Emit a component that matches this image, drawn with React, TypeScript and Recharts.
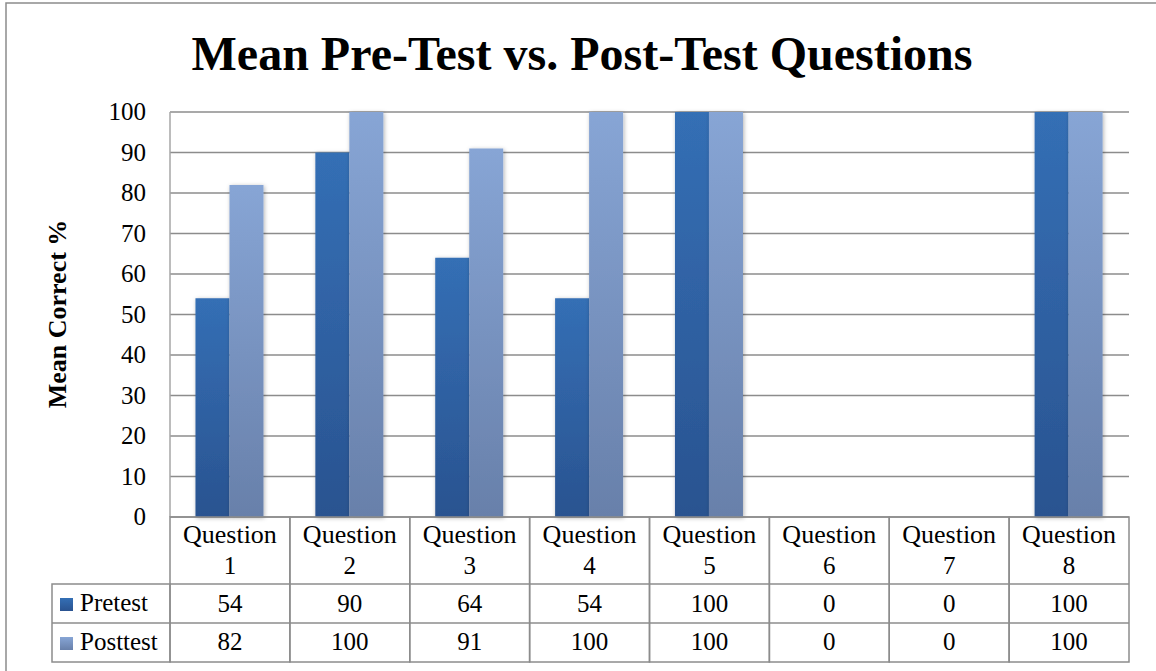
import { BarChart, Bar, XAxis, YAxis, CartesianGrid } from "recharts";

// Mean correct % per question
const questions = ["1", "2", "3", "4", "5", "6", "7", "8"];
const pretest = [54, 90, 64, 54, 100, 0, 0, 100];
const posttest = [82, 100, 91, 100, 100, 0, 0, 100];
const yTicks = [0, 10, 20, 30, 40, 50, 60, 70, 80, 90, 100];

const data = questions.map((q, i) => ({
  name: `Question ${q}`,
  num: q,
  pretest: pretest[i],
  posttest: posttest[i],
}));

const W = 1156;
const H = 671;
const PLOT_LEFT = 170;
const PLOT_RIGHT = 1129;
const PLOT_TOP = 112;
const PLOT_BOTTOM = 517;
const COL_W = (PLOT_RIGHT - PLOT_LEFT) / questions.length;
const ROW1 = 584;
const ROW2 = 623;
const ROW3 = 662;
const LINE = "#8c8c8c";
const FONT = "'Liberation Serif', 'Times New Roman', serif";
const txt = { fontFamily: FONT, fontSize: 25, fill: "#000" };

function YTick(props: any) {
  const { x, y, payload } = props;
  return (
    <text x={x} y={y} dy={8} textAnchor="end" style={txt}>
      {payload.value}
    </text>
  );
}

// each x tick draws one column of the data table under the plot
function TableTick(props: any) {
  const { x, y, index } = props;
  const left = x - COL_W / 2;
  const d = data[index];
  return (
    <g>
      <rect x={left} y={y} width={COL_W} height={ROW3 - y} fill="none" stroke={LINE} strokeWidth={1.5} />
      <line x1={left} x2={left + COL_W} y1={ROW1} y2={ROW1} stroke={LINE} strokeWidth={1.5} />
      <line x1={left} x2={left + COL_W} y1={ROW2} y2={ROW2} stroke={LINE} strokeWidth={1.5} />
      <text x={x} y={543} textAnchor="middle" style={{ ...txt, fontSize: 26 }}>Question</text>
      <text x={x} y={574} textAnchor="middle" style={txt}>{d.num}</text>
      <text x={x} y={612} textAnchor="middle" style={txt}>{d.pretest}</text>
      <text x={x} y={650} textAnchor="middle" style={txt}>{d.posttest}</text>
      {index === 0 && (
        <g>
          <rect x={52} y={ROW1} width={PLOT_LEFT - 52} height={ROW3 - ROW1} fill="none" stroke={LINE} strokeWidth={1.5} />
          <line x1={52} x2={PLOT_LEFT} y1={ROW2} y2={ROW2} stroke={LINE} strokeWidth={1.5} />
          <rect x={60} y={598} width={13} height={13} fill="url(#gradPre)" />
          <text x={80} y={611} style={txt}>Pretest</text>
          <rect x={60} y={637} width={13} height={13} fill="url(#gradPost)" />
          <text x={80} y={650} style={txt}>Posttest</text>
        </g>
      )}
    </g>
  );
}

export default function App() {
  return (
    <div style={{ position: "absolute", left: 0, top: 0, width: W, height: H, background: "#fff" }}>
      <BarChart
        width={W}
        height={H}
        data={data}
        margin={{ top: PLOT_TOP, right: W - PLOT_RIGHT, left: 0, bottom: 0 }}
        barCategoryGap="21.25%"
        barGap={0}
      >
        <defs>
          <linearGradient id="gradPre" x1="0" y1="0" x2="0" y2="1">
            <stop offset="0%" stopColor="#346FB5" />
            <stop offset="100%" stopColor="#2A5390" />
          </linearGradient>
          <linearGradient id="gradPost" x1="0" y1="0" x2="0" y2="1">
            <stop offset="0%" stopColor="#87A5D5" />
            <stop offset="100%" stopColor="#6880AA" />
          </linearGradient>
          <filter id="barShadow" x="-30%" y="-10%" width="160%" height="120%">
            <feDropShadow dx="1" dy="1" stdDeviation="2" floodColor="#000" floodOpacity="0.3" />
          </filter>
        </defs>

        {/* outer chart frame (right and bottom edges fall outside the picture) */}
        <rect x={6} y={3} width={W + 20} height={H + 20} fill="none" stroke={LINE} strokeWidth={1.5} />

        <text x={582} y={70} textAnchor="middle" style={{ fontFamily: FONT, fontWeight: "bold", fontSize: 48, fill: "#000" }}>
          Mean Pre-Test vs. Post-Test Questions
        </text>

        <text
          x={66}
          y={314}
          textAnchor="middle"
          transform="rotate(-90 66 314)"
          style={{ fontFamily: FONT, fontWeight: "bold", fontSize: 26, fill: "#000" }}
        >
          Mean Correct %
        </text>

        <CartesianGrid horizontal vertical={false} stroke={LINE} strokeWidth={1.5} />

        <YAxis
          width={PLOT_LEFT}
          domain={[0, 100]}
          ticks={yTicks}
          interval={0}
          tickSize={0}
          tickMargin={24}
          tickLine={false}
          axisLine={{ stroke: "#a6a6a6", strokeWidth: 1.5 }}
          tick={<YTick />}
        />
        <XAxis
          dataKey="name"
          height={H - PLOT_BOTTOM}
          interval={0}
          tickSize={0}
          tickMargin={0}
          tickLine={false}
          axisLine={false}
          tick={<TableTick />}
        />

        <Bar dataKey="pretest" fill="url(#gradPre)" filter="url(#barShadow)" isAnimationActive={false} />
        <Bar dataKey="posttest" fill="url(#gradPost)" filter="url(#barShadow)" isAnimationActive={false} />
      </BarChart>
    </div>
  );
}
